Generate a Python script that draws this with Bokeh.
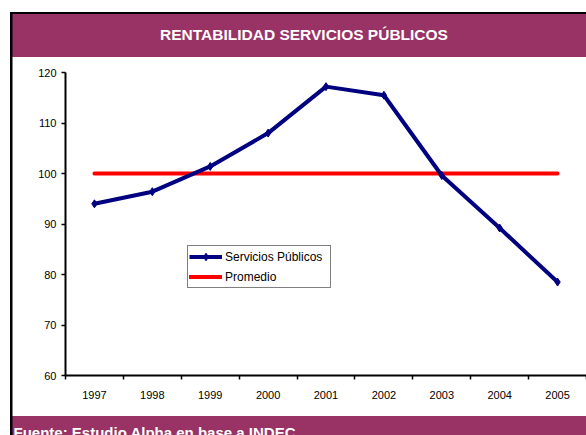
from bokeh.plotting import figure
from bokeh.layouts import column
from bokeh.models import Range1d, FixedTicker, Label, Legend, LegendItem, Title
from bokeh.embed import file_html
from bokeh.resources import INLINE

# ---- data ----
years = [1997, 1998, 1999, 2000, 2001, 2002, 2003, 2004, 2005]
servicios = [94.0, 96.4, 101.4, 108.0, 117.2, 115.5, 99.6, 89.2, 78.5]
promedio = [100, 100, 100, 100, 100, 100, 100, 100, 100]
y_ticks = [60, 70, 80, 90, 100, 110, 120]
title_text = "RENTABILIDAD SERVICIOS PÚBLICOS"
source_text = "Fuente: Estudio Alpha en base a INDEC"
series_names = ["Servicios Públicos", "Promedio"]

PURPLE = "#993366"
FONT = "Liberation Sans"
W = 586
FRAME_LEFT = 65

# background decoration (black frame lines + purple title / source bands), painted by CSS
deco = ", ".join([
    "linear-gradient(#000,#000) 9.5px 12px / 2.5px 423px no-repeat",
    "linear-gradient(#000,#000) 9.5px 12px / 577px 2px no-repeat",
    f"linear-gradient({PURPLE},{PURPLE}) 12px 14px / 574px 43px no-repeat",
    f"linear-gradient({PURPLE},{PURPLE}) 12px 416px / 574px 19px no-repeat",
    "white",
])


def band(height, top=0):
    f = figure(width=W, height=height, output_backend="svg", toolbar_location=None,
               x_axis_location=None, y_axis_location=None,
               min_border_left=0, min_border_right=0, min_border_top=top, min_border_bottom=0)
    f.outline_line_color = None
    f.grid.visible = False
    f.background_fill_color = None
    f.border_fill_color = None
    return f


# header (title) -- its frame is aligned with the chart frame (x from 65)
head = band(57)
head.add_layout(Label(x=303.5 - FRAME_LEFT, y=22.8, x_units="screen", y_units="screen",
                      text=title_text, text_align="center", text_baseline="alphabetic",
                      text_font=FONT, text_font_style="bold", text_font_size="15.5px",
                      text_color="white"))

# footer (source), written as a title that hangs below its own panel
foot = band(19, top=18)
foot.add_layout(Title(text=source_text, align="left", offset=13 - FRAME_LEFT,
                      vertical_align="bottom", standoff=-13.6,
                      text_font=FONT, text_font_style="bold", text_font_size="15px",
                      text_color="white"), "above")

# main chart
p = figure(width=W, height=359, output_backend="svg", toolbar_location=None,
           x_range=Range1d(years[0] - 0.5, years[-1] + 0.5),
           y_range=Range1d(y_ticks[0], y_ticks[-1]),
           min_border_left=FRAME_LEFT, min_border_right=0, min_border_top=15, min_border_bottom=41)
p.outline_line_color = None
p.grid.visible = False
p.background_fill_color = "white"
p.border_fill_color = None

xa = p.xaxis[0]
bounds = [y - 0.5 for y in years] + [years[-1] + 0.5]
xa.ticker = FixedTicker(ticks=years, minor_ticks=bounds)
xa.major_tick_out = 0
xa.major_tick_in = 0
xa.minor_tick_out = 4
xa.minor_tick_in = 0
xa.minor_tick_line_color = "black"
xa.minor_tick_line_width = 1.5
xa.axis_line_width = 2
xa.major_label_text_font = FONT
xa.major_label_text_font_size = "11px"
xa.major_label_text_color = "black"
xa.major_label_standoff = 11

ya = p.yaxis[0]
ya.ticker = FixedTicker(ticks=y_ticks)
ya.major_tick_out = 4
ya.major_tick_in = 0
ya.minor_tick_out = 0
ya.minor_tick_in = 0
ya.major_tick_line_width = 1.5
ya.axis_line_width = 2
ya.major_label_text_font = FONT
ya.major_label_text_font_size = "11px"
ya.major_label_text_color = "black"
ya.major_label_standoff = 5

r_red = p.line(years, promedio, line_color="#FF0000", line_width=4, line_cap="round")
r_blue = p.line(years, servicios, line_color="#000080", line_width=4, line_join="round")
r_mark = p.scatter(years, servicios, marker="diamond", size=8,
                   fill_color="#000080", line_color="#000080")

legend = Legend(items=[LegendItem(label=series_names[0], renderers=[r_blue, r_mark]),
                       LegendItem(label=series_names[1], renderers=[r_red])],
                location=(122, 87), orientation="vertical",
                border_line_color="black", border_line_width=1.5,
                background_fill_color="white", background_fill_alpha=1,
                padding=1, spacing=1, margin=0,
                glyph_width=33, glyph_height=19, label_height=19, label_width=104,
                label_standoff=3,
                label_text_font=FONT, label_text_font_size="12px",
                label_text_color="black")
p.add_layout(legend, "center")

layout = column(head, p, foot, spacing=0, styles={"background": deco})

open("out.html", "w").write(file_html(layout, INLINE))
